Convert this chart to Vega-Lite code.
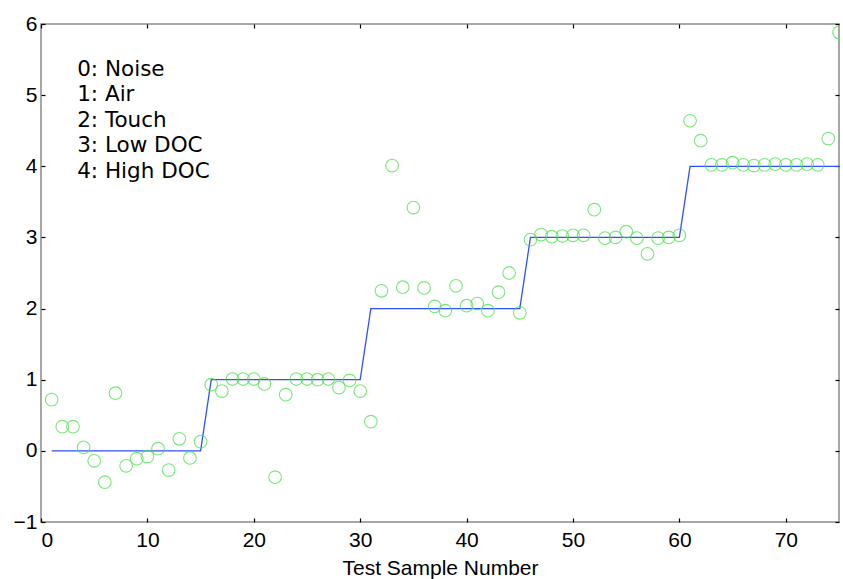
{
  "$schema": "https://vega.github.io/schema/vega-lite/v6.json",
  "autosize": "none",
  "width": 798,
  "height": 498,
  "padding": {"left": 41, "top": 24, "right": 4, "bottom": 57},
  "background": "white",
  "config": {
    "view": {"stroke": "#8a8a8a", "strokeWidth": 1.5},
    "axis": {"grid": false, "domain": false, "labelFont": "Liberation Sans", "labelFontSize": 21, "labelColor": "black", "titleFont": "Liberation Sans", "titleFontSize": 21, "titleFontWeight": "normal", "titleColor": "black", "tickColor": "black", "tickSize": -4, "tickWidth": 1.2}
  },
  "datasets": {
    "pts": [
      {"n":1,"y":0.72,"cls":0},{"n":2,"y":0.34,"cls":0},{"n":3,"y":0.34,"cls":0},{"n":4,"y":0.05,"cls":0},{"n":5,"y":-0.14,"cls":0},
      {"n":6,"y":-0.44,"cls":0},{"n":7,"y":0.81,"cls":0},{"n":8,"y":-0.21,"cls":0},{"n":9,"y":-0.11,"cls":0},{"n":10,"y":-0.08,"cls":0},
      {"n":11,"y":0.03,"cls":0},{"n":12,"y":-0.27,"cls":0},{"n":13,"y":0.17,"cls":0},{"n":14,"y":-0.10,"cls":0},{"n":15,"y":0.13,"cls":0},
      {"n":16,"y":0.93,"cls":1},{"n":17,"y":0.84,"cls":1},{"n":18,"y":1.01,"cls":1},{"n":19,"y":1.01,"cls":1},{"n":20,"y":1.01,"cls":1},
      {"n":21,"y":0.94,"cls":1},{"n":22,"y":-0.37,"cls":1},{"n":23,"y":0.79,"cls":1},{"n":24,"y":1.01,"cls":1},{"n":25,"y":1.01,"cls":1},
      {"n":26,"y":1.0,"cls":1},{"n":27,"y":1.01,"cls":1},{"n":28,"y":0.89,"cls":1},{"n":29,"y":0.99,"cls":1},{"n":30,"y":0.84,"cls":1},
      {"n":31,"y":0.41,"cls":2},{"n":32,"y":2.25,"cls":2},{"n":33,"y":4.01,"cls":2},{"n":34,"y":2.30,"cls":2},{"n":35,"y":3.42,"cls":2},
      {"n":36,"y":2.29,"cls":2},{"n":37,"y":2.03,"cls":2},{"n":38,"y":1.97,"cls":2},{"n":39,"y":2.32,"cls":2},{"n":40,"y":2.04,"cls":2},
      {"n":41,"y":2.07,"cls":2},{"n":42,"y":1.97,"cls":2},{"n":43,"y":2.23,"cls":2},{"n":44,"y":2.5,"cls":2},{"n":45,"y":1.94,"cls":2},
      {"n":46,"y":2.97,"cls":3},{"n":47,"y":3.04,"cls":3},{"n":48,"y":3.01,"cls":3},{"n":49,"y":3.02,"cls":3},{"n":50,"y":3.03,"cls":3},
      {"n":51,"y":3.03,"cls":3},{"n":52,"y":3.39,"cls":3},{"n":53,"y":2.99,"cls":3},{"n":54,"y":3.0,"cls":3},{"n":55,"y":3.08,"cls":3},
      {"n":56,"y":2.99,"cls":3},{"n":57,"y":2.77,"cls":3},{"n":58,"y":2.99,"cls":3},{"n":59,"y":3.0,"cls":3},{"n":60,"y":3.03,"cls":3},
      {"n":61,"y":4.64,"cls":4},{"n":62,"y":4.36,"cls":4},{"n":63,"y":4.02,"cls":4},{"n":64,"y":4.02,"cls":4},{"n":65,"y":4.05,"cls":4},
      {"n":66,"y":4.02,"cls":4},{"n":67,"y":4.01,"cls":4},{"n":68,"y":4.02,"cls":4},{"n":69,"y":4.03,"cls":4},{"n":70,"y":4.02,"cls":4},
      {"n":71,"y":4.02,"cls":4},{"n":72,"y":4.03,"cls":4},{"n":73,"y":4.02,"cls":4},{"n":74,"y":4.39,"cls":4},{"n":75,"y":5.88,"cls":4}
    ],
    "legend": [
      {"t":"0: Noise","x":3.4,"y":5.36},
      {"t":"1: Air","x":3.4,"y":5.0},
      {"t":"2: Touch","x":3.4,"y":4.64},
      {"t":"3: Low DOC","x":3.4,"y":4.28},
      {"t":"4: High DOC","x":3.4,"y":3.92}
    ]
  },
  "resolve": {"axis": {"x": "independent", "y": "independent"}},
  "layer": [
    {
      "data": {"name": "pts"},
      "mark": {"type": "line", "color": "#2f50ff", "strokeWidth": 1.3, "clip": true},
      "encoding": {
        "x": {"field": "n", "type": "quantitative", "scale": {"domain": [0, 75], "nice": false}, "axis": {"orient": "top", "labels": false, "title": null, "values": [0,10,20,30,40,50,60,70]}},
        "y": {"field": "cls", "type": "quantitative", "scale": {"domain": [-1, 6], "nice": false}, "axis": {"orient": "right", "labels": false, "title": null, "values": [-1,0,1,2,3,4,5,6]}}
      }
    },
    {
      "data": {"name": "pts"},
      "mark": {"type": "point", "shape": "circle", "filled": false, "stroke": "#3ee03e", "strokeWidth": 1.1, "size": 160, "clip": true},
      "encoding": {
        "x": {"field": "n", "type": "quantitative", "scale": {"domain": [0, 75], "nice": false}, "axis": {"orient": "bottom", "title": "Test Sample Number", "values": [0,10,20,30,40,50,60,70], "labelPadding": 11, "titlePadding": 7}},
        "y": {"field": "y", "type": "quantitative", "scale": {"domain": [-1, 6], "nice": false}, "axis": {"orient": "left", "title": null, "values": [-1,0,1,2,3,4,5,6], "labelPadding": 8}}
      }
    },
    {
      "data": {"name": "legend"},
      "mark": {"type": "text", "align": "left", "baseline": "middle", "font": "DejaVu Sans", "fontSize": 21.5, "color": "black"},
      "encoding": {
        "x": {"field": "x", "type": "quantitative", "scale": {"domain": [0, 75], "nice": false}, "axis": null},
        "y": {"field": "y", "type": "quantitative", "scale": {"domain": [-1, 6], "nice": false}, "axis": null},
        "text": {"field": "t"}
      }
    }
  ]
}
